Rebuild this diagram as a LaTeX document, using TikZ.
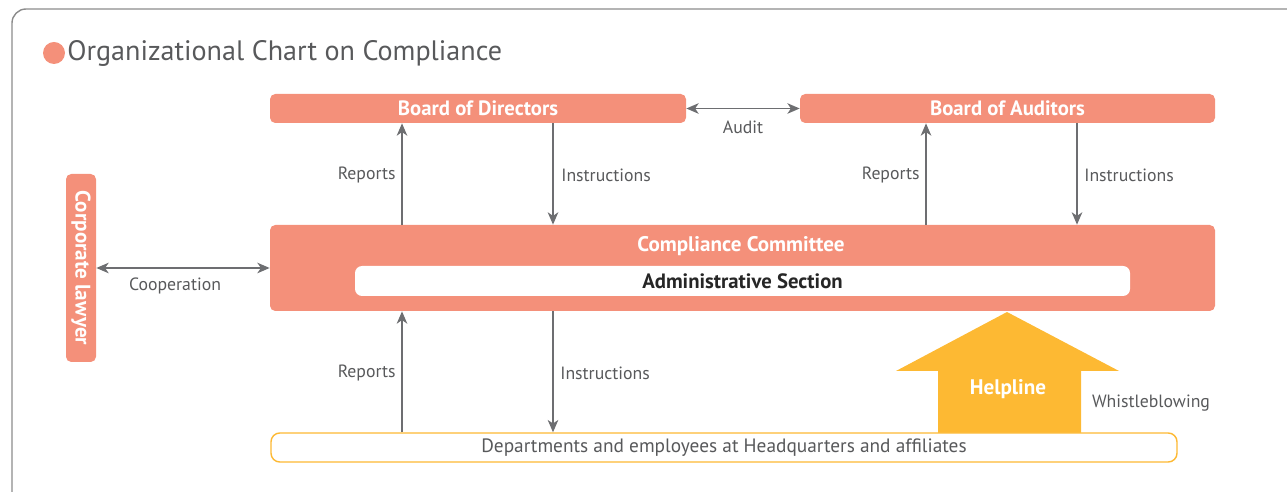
\documentclass[tikz,border=0pt]{standalone}
\usepackage{fontspec}
\setmainfont{PT Sans}
\usetikzlibrary{positioning,arrows.meta}
\definecolor{salmon}{HTML}{F4907A}
\definecolor{helpyellow}{HTML}{FDB933}
\definecolor{arrowgray}{HTML}{6D6E71}
\definecolor{textgray}{HTML}{58595B}
\tikzset{
  orgbox/.style={fill=salmon, rounded corners=3pt, inner sep=0pt, text=white,
    font=\bfseries\fontsize{11.8}{13}\selectfont},
  lbl/.style={text=textgray, font=\fontsize{10.1}{12}\selectfont, inner sep=0pt},
  arr/.style={draw=arrowgray, line width=0.8pt, -{Stealth[length=7pt,width=6pt,inset=2pt]}},
  dblarr/.style={arr, {Stealth[length=7pt,width=6pt,inset=2pt]}-{Stealth[length=7pt,width=6pt,inset=2pt]}}
}
\begin{document}
\begin{tikzpicture}[x=0.02cm, y=-0.02cm]
\useasboundingbox (0,0) rectangle (1287,492);
% Frame
\draw[gray!90, line width=0.8pt, rounded corners=8pt] (1300,9) -- (12,9) -- (12,510);
% Title
\fill[salmon] (54,53) circle (11);
\node[anchor=west, text=textgray, font=\fontsize{16}{19}\selectfont, inner sep=0pt] (title) at (67,53) {Organizational Chart on Compliance};
% Nodes
\node[orgbox, minimum width=416*0.02cm, minimum height=29*0.02cm] (directors) at (478,108.5) {Board of Directors};
\node[orgbox, minimum width=415*0.02cm, minimum height=29*0.02cm] (auditors) at (1007.5,108.5) {Board of Auditors};
\node[orgbox, minimum width=945*0.02cm, minimum height=86*0.02cm] (committee) at (742.5,268) {};
\node[text=white, font=\bfseries\fontsize{12}{14}\selectfont, inner sep=0pt] (comtitle) at (741,246) {Compliance Committee};
\node[fill=white, rounded corners=4pt, inner sep=0pt, minimum width=775*0.02cm, minimum height=30*0.02cm,
  text=black!85, font=\bfseries\fontsize{11.8}{13}\selectfont] (admin) at (742.5,281) {Administrative Section};
\node[orgbox, minimum width=188*0.02cm, minimum height=30*0.02cm, rotate=-90,
  font=\bfseries\fontsize{12}{14}\selectfont] (lawyer) at (81,268) {Corporate lawyer};
% Helpline
\fill[helpyellow] (938,433) -- (938,371) -- (896,371) -- (1007,312) -- (1119,371) -- (1081,371) -- (1081,433) -- cycle;
\node[text=white, font=\bfseries\fontsize{12}{14}\selectfont, inner sep=0pt] (helpline) at (1008,389) {Helpline};
\node[draw=helpyellow, line width=0.8pt, fill=white, rounded corners=5pt, inner sep=0pt,
  minimum width=906*0.02cm, minimum height=29*0.02cm, text=textgray, font=\fontsize{11}{13}\selectfont]
  (departments) at (724,447.5) {Departments and employees at Headquarters and affiliates};
% Lines
\coordinate (left) at (402,0);
\coordinate (midl) at (553,0);
\coordinate (midr) at (926,0);
\coordinate (right) at (1077,0);
\draw[arr] (committee.north -| left) -- (directors.south -| left);
\draw[arr] (directors.south -| midl) -- (committee.north -| midl);
\draw[arr] (committee.north -| midr) -- (auditors.south -| midr);
\draw[arr] (auditors.south -| right) -- (committee.north -| right);
\draw[arr] (departments.north -| left) -- (committee.south -| left);
\draw[arr] (committee.south -| midl) -- (departments.north -| midl);
\draw[dblarr] (directors.east) -- (auditors.west);
\draw[dblarr] (lawyer.north) -- (committee.west |- lawyer.north);
% Labels
\node[lbl, anchor=east] (rep1) at (396,175) {Reports};
\node[lbl, anchor=west] (ins1) at (561,175) {Instructions};
\node[lbl, anchor=east] (rep2) at (920,175) {Reports};
\node[lbl, anchor=west] (ins2) at (1084,175) {Instructions};
\node[lbl] (audit) at (743,127) {Audit};
\node[lbl] (coop) at (175,286) {Cooperation};
\node[lbl, anchor=east] (rep3) at (396,373) {Reports};
\node[lbl, anchor=west] (ins3) at (560,373) {Instructions};
\node[lbl] (whistle) at (1151,403) {Whistleblowing};
\end{tikzpicture}
\end{document}
